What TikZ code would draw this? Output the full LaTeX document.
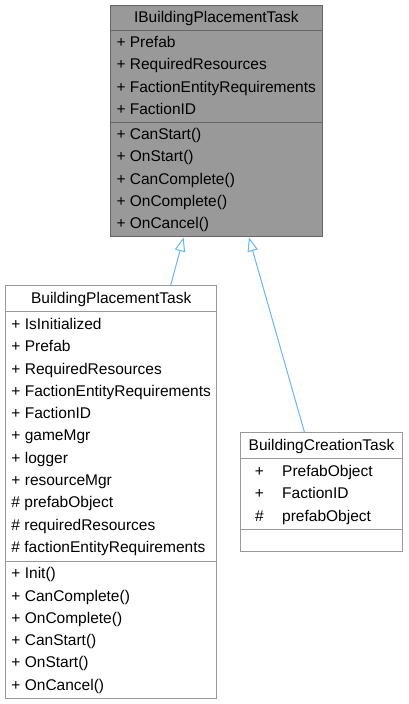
\documentclass[tikz,border=0pt]{standalone}
\usepackage{fontspec}
\setmainfont{Liberation Sans}
\usepackage{xcolor}
\usepackage{tikz}
\usetikzlibrary{arrows.meta,calc,shapes.multipart}

\definecolor{edgeblue}{HTML}{63B8FF}
\definecolor{boxgray}{HTML}{999999}
\definecolor{rimdark}{HTML}{666666}
\definecolor{rimlight}{HTML}{999999}

\newcommand{\umlrow}[1]{\strut#1}
\newcommand{\umlcol}[2]{\strut\makebox[26pt]{#1}\hspace{9.7pt}#2}

\begin{document}
\begin{tikzpicture}[
    x=1pt, y=-1pt,
    umlclass/.style={rectangle split, rectangle split parts=3,
      rectangle split part align={center,left,left},
      draw=rimlight, fill=white, line width=1pt, anchor=north west,
      inner xsep=6pt, inner ysep=1.5pt, align=left,
      font=\fontsize{15.5}{22.3}\selectfont},
    current/.style={umlclass, draw=rimdark, fill=boxgray, inner ysep=0.9pt},
    inherit/.style={draw=edgeblue, line width=1pt,
      -{Triangle[open, length=14pt, width=10.5pt]}},
  ]
  \useasboundingbox (0,0) rectangle (408,704);

  \node[current, minimum width=211.7pt] (iface) at (110,5)
    {\umlrow{IBuildingPlacementTask}
     \nodepart{two}
     \umlrow{+ Prefab}\\
     \umlrow{+ RequiredResources}\\
     \umlrow{+ FactionEntityRequirements}\\
     \umlrow{+ FactionID}
     \nodepart{three}
     \umlrow{+ CanStart()}\\
     \umlrow{+ OnStart()}\\
     \umlrow{+ CanComplete()}\\
     \umlrow{+ OnComplete()}\\
     \umlrow{+ OnCancel()}};

  \node[umlclass, minimum width=211pt] (placement) at (5,285)
    {\umlrow{BuildingPlacementTask}
     \nodepart{two}
     \umlrow{+ IsInitialized}\\
     \umlrow{+ Prefab}\\
     \umlrow{+ RequiredResources}\\
     \umlrow{+ FactionEntityRequirements}\\
     \umlrow{+ FactionID}\\
     \umlrow{+ gameMgr}\\
     \umlrow{+ logger}\\
     \umlrow{+ resourceMgr}\\
     \umlrow{\# prefabObject}\\
     \umlrow{\# requiredResources}\\
     \umlrow{\# factionEntityRequirements}
     \nodepart{three}
     \umlrow{+ Init()}\\
     \umlrow{+ CanComplete()}\\
     \umlrow{+ OnComplete()}\\
     \umlrow{+ CanStart()}\\
     \umlrow{+ OnStart()}\\
     \umlrow{+ OnCancel()}};

  \node[umlclass, minimum width=162pt] (creation) at (240,432)
    {\umlrow{BuildingCreationTask}
     \nodepart{two}
     \umlcol{+}{PrefabObject}\\
     \umlcol{+}{FactionID}\\
     \umlcol{\#}{prefabObject}
     \nodepart{three}
     \rule{0pt}{18pt}};

  % generalisation edges, ends placed along the box edges
  \draw[inherit] ($(placement.north west)!0.78!(placement.north east)$)
    -- ($(iface.south west)!0.346!(iface.south east)$);
  \draw[inherit] ($(creation.north west)!0.395!(creation.north east)$)
    -- ($(iface.south west)!0.653!(iface.south east)$);
\end{tikzpicture}
\end{document}
